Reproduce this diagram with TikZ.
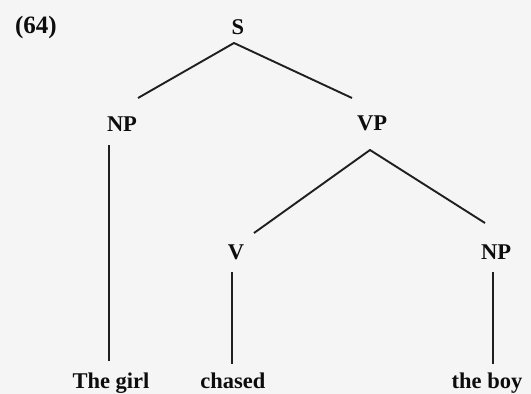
\documentclass[tikz,border=0pt]{standalone}
\usepackage{fontspec}
\setmainfont{Liberation Serif}
\begin{document}
\begin{tikzpicture}[x=1pt,y=-1pt,
  lab/.style={inner sep=0pt,anchor=base,font=\bfseries\fontsize{22.5}{27}\selectfont,text=black!95},
  edge/.style={line width=1.9pt,draw=black!88,line join=round}]
\useasboundingbox[fill=black!4] (0,0) rectangle (531,394);
\node[lab,font=\bfseries\fontsize{25}{29}\selectfont] (ex) at (36,33) {(64)};
\node[lab] (S) at (238,34) {S};
\node[lab] (NPa) at (122,131) {NP};
\node[lab] (VP) at (372,130) {VP};
\node[lab] (V) at (236,259) {V};
\node[lab] (NPb) at (496,259) {NP};
\node[lab] (girl) at (111,388) {The girl};
\node[lab] (chased) at (233,388) {chased};
\node[lab] (boy) at (487,388) {the boy};
\draw[edge] ([shift={(16,-33)}]NPa.base) -- ([shift={(-4,9)}]S.base) -- ([shift={(-20,-32)}]VP.base);
\draw[edge] ([shift={(-13,14)}]NPa.base) -- ([shift={(-2,-27)}]girl.base);
\draw[edge] ([shift={(18,-26)}]V.base) -- ([shift={(-2,20)}]VP.base) -- ([shift={(-11,-36)}]NPb.base);
\draw[edge] ([shift={(-4,13)}]V.base) -- ([shift={(-1,-24)}]chased.base);
\draw[edge] ([shift={(-3,13)}]NPb.base) -- ([shift={(6,-24)}]boy.base);
\end{tikzpicture}
\end{document}
